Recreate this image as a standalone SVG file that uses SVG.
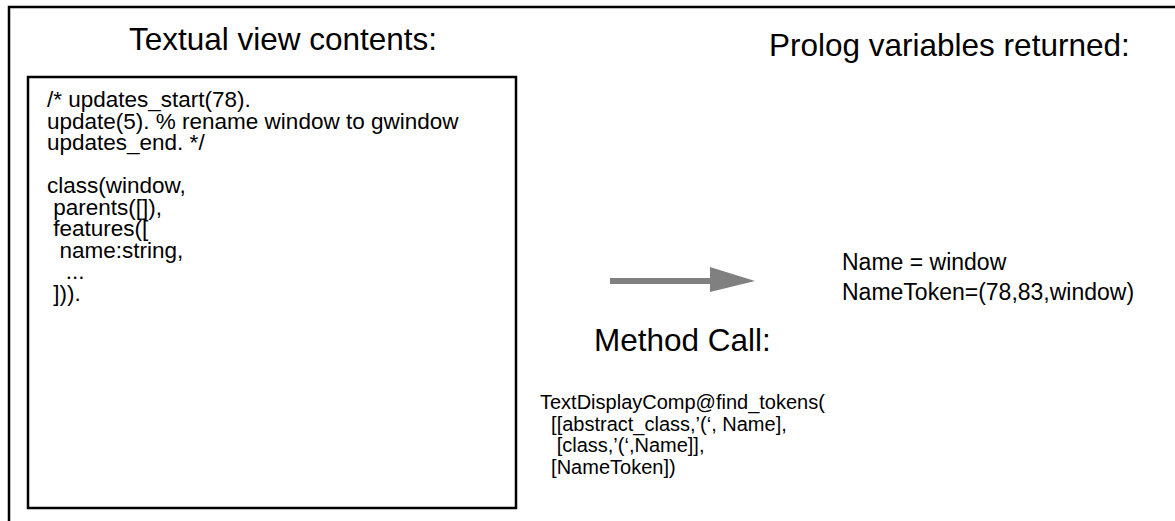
<svg xmlns="http://www.w3.org/2000/svg" width="1175" height="521" viewBox="0 0 1175 521">
<style>
text{font-family:"Liberation Sans",Arial,sans-serif;fill:#000;white-space:pre}
.title{font-size:31.5px}
.code{font-size:22.5px}
.call{font-size:20px}
.vars{font-size:23px}
.frame{fill:none;stroke:#000;stroke-width:2.5}
</style>
<rect x="0" y="0" width="1175" height="521" fill="#fff"/>
<g id="outer-frame">
<path class="frame" d="M9,521 V7 H1175"/>
</g>
<g id="textual-view">
<text class="title" x="283" y="50" text-anchor="middle">Textual view contents:</text>
<rect class="frame" x="28" y="77" width="488" height="431"/>
<text class="code" xml:space="preserve"><tspan x="47" y="107">/* updates_start(78).</tspan><tspan x="47" y="128.5">update(5). % rename window to gwindow</tspan><tspan x="47" y="150">updates_end. */</tspan><tspan x="47" y="193">class(window,</tspan><tspan x="47" y="214.5"> parents([]),</tspan><tspan x="47" y="236"> features([</tspan><tspan x="47" y="257.5">  name:string,</tspan><tspan x="47" y="279">   ...</tspan><tspan x="47" y="300.5"> ])).</tspan></text>
</g>
<g id="prolog-vars">
<text class="title" x="769" y="56">Prolog variables returned:</text>
<text class="vars" x="842" y="270">Name = window</text>
<text class="vars" x="842" y="300">NameToken=(78,83,window)</text>
</g>
<g id="connectors">
<polygon points="610,278 710,278 710,267 755,281 710,292 710,284 610,284" fill="#808080"/>
</g>
<g id="method-call">
<text class="title" x="594" y="351">Method Call:</text>
<text class="call" xml:space="preserve"><tspan x="540" y="409">TextDisplayComp@find_tokens(</tspan><tspan x="540" y="431">  [[abstract_class,’(‘, Name],</tspan><tspan x="540" y="452">   [class,’(‘,Name]],</tspan><tspan x="540" y="474">  [NameToken])</tspan></text>
</g>
</svg>
